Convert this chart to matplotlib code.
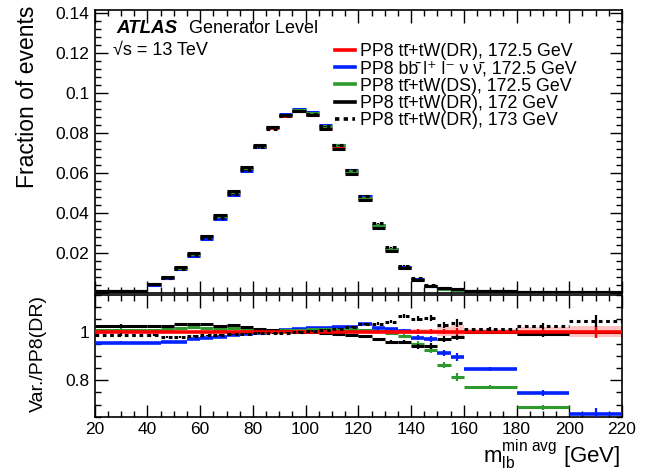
import numpy as np
import matplotlib
matplotlib.use('Agg')
import matplotlib.pyplot as plt
from matplotlib.ticker import MultipleLocator, FuncFormatter
from matplotlib.lines import Line2D

plt.rcParams['font.family'] = ['Liberation Sans', 'DejaVu Sans']
plt.rcParams['mathtext.fontset'] = 'custom'
plt.rcParams['mathtext.rm'] = 'Liberation Sans'
plt.rcParams['mathtext.it'] = 'Liberation Sans:italic'
plt.rcParams['mathtext.bf'] = 'Liberation Sans:bold'
plt.rcParams['mathtext.default'] = 'regular'

# ---------------- data ----------------
bin_edges = [20, 40, 45, 50, 55, 60, 65, 70, 75, 80, 85, 90, 95, 100, 105, 110,
             115, 120, 125, 130, 135, 140, 145, 150, 155, 160, 180, 200, 220]

frac_nominal = [0.0008, 0.0044, 0.0077, 0.0124, 0.0192, 0.0279, 0.0380, 0.0499,
                0.0619, 0.0732, 0.0827, 0.0887, 0.0910, 0.0892, 0.0827, 0.0729,
                0.0605, 0.0472, 0.0337, 0.0220, 0.0129, 0.0070, 0.0037, 0.0024,
                0.0019, 0.0012, 0.0007, 0.0004]

ratio_nominal = [1.0] * 28
ratio_bbllvv = [0.954, 0.951, 0.957, 0.955, 0.968, 0.975, 0.978, 0.985, 0.988, 0.995,
                1.004, 1.008, 1.010, 1.015, 1.016, 1.018, 1.018, 1.030, 1.013, 1.009,
                1.003, 0.975, 0.968, 0.913, 0.895, 0.845, 0.746, 0.660]
ratio_ds = [1.008, 1.008, 1.012, 1.015, 1.017, 1.015, 1.010, 1.015, 1.010, 1.006,
            1.004, 1.006, 1.008, 1.010, 1.012, 1.012, 1.010, 1.005, 1.002, 0.993,
            0.981, 0.950, 0.923, 0.864, 0.813, 0.771, 0.688, 0.600]
ratio_172 = [1.023, 1.022, 1.024, 1.030, 1.030, 1.030, 1.022, 1.027, 1.018, 1.012,
             1.005, 1.002, 1.000, 0.997, 0.993, 0.990, 0.987, 0.981, 0.968, 0.959,
             0.956, 0.940, 0.942, 0.968, 0.979, 0.998, 0.990, 0.999]
ratio_173 = [0.987, 0.984, 0.978, 0.977, 0.982, 0.984, 0.986, 0.988, 0.991, 0.994,
             0.992, 0.995, 0.998, 1.003, 1.008, 1.012, 1.017, 1.030, 1.032, 1.040,
             1.062, 1.052, 1.055, 1.028, 1.035, 1.012, 1.022, 1.043]

band_nominal = [0.006, 0.004, 0.004, 0.003, 0.003, 0.003, 0.003, 0.003, 0.003, 0.003,
                0.003, 0.003, 0.003, 0.003, 0.003, 0.003, 0.004, 0.006, 0.008, 0.008,
                0.010, 0.010, 0.012, 0.020, 0.025, 0.012, 0.018, 0.022]
err_ratio = [0.006, 0.004, 0.004, 0.004, 0.003, 0.003, 0.003, 0.003, 0.003, 0.003,
             0.003, 0.003, 0.003, 0.003, 0.003, 0.003, 0.004, 0.005, 0.006, 0.007,
             0.008, 0.010, 0.012, 0.012, 0.015, 0.008, 0.012, 0.025]

labels = ['PP8 tt\u0304+tW(DR), 172.5 GeV',
          'PP8 bb\u0304 l\u207a l\u207b \u03bd \u03bd\u0304, 172.5 GeV',
          'PP8 tt\u0304+tW(DS), 172.5 GeV',
          'PP8 tt\u0304+tW(DR), 172 GeV',
          'PP8 tt\u0304+tW(DR), 173 GeV']
colors = ['#ff0000', '#0022ff', '#2e9a2e', '#000000', '#000000']
dotted = (0, (1.2, 1.2))
styles = ['solid', 'solid', 'solid', 'solid', dotted]

# ---------------- figure ----------------
edges = np.array(bin_edges, dtype=float)
lo, hi = edges[:-1], edges[1:]
ctr = 0.5 * (lo + hi)
nom = np.array(frac_nominal)

fig = plt.figure(figsize=(6.58, 4.73), dpi=100)
ax1 = fig.add_axes([0.1439, 0.3805, 0.8014, 0.5984])
ax2 = fig.add_axes([0.1439, 0.1190, 0.8014, 0.2573])


def draw(ax, y, err, color, ls, lw, z):
    lc = ax.hlines(y, lo, hi, colors=color, linewidth=lw, zorder=z)
    lc.set_linestyle(ls)
    ax.vlines(ctr, y - err, y + err, colors=color, linewidth=1.6, zorder=z)


ratios = [ratio_nominal, ratio_bbllvv, ratio_ds, ratio_172, ratio_173]
zorders = [3, 4, 5, 6, 7]
err_r = np.array(err_ratio)

# top panel
for r, c, s, z in zip(ratios, colors, styles, zorders):
    r = np.array(r)
    draw(ax1, nom * r, nom * err_r, c, s, 2.2, z)

# ratio panel
band = np.array(band_nominal)
ax2.stairs(1 + band, edges, baseline=1 - band, fill=True, color='#ffc4c4',
           zorder=2, linewidth=0)
order = [1, 2, 3, 0, 4]
for i in order:
    r = np.array(ratios[i])
    lw = 2.6 if i in (0, 1) else 2.2
    draw(ax2, r, err_r, colors[i], styles[i], lw, 3 + order.index(i))

# axes styling
for ax in (ax1, ax2):
    ax.set_xlim(20, 220)
    ax.xaxis.set_major_locator(MultipleLocator(20))
    ax.xaxis.set_minor_locator(MultipleLocator(5))
    ax.tick_params(which='both', direction='in', top=True, right=True,
                   labelsize=12.5, width=1)
    ax.tick_params(which='major', length=9, pad=4)
    ax.tick_params(which='minor', length=4.5)
    for sp in ax.spines.values():
        sp.set_linewidth(1.2)

ax1.set_ylim(0, 0.1415)
ax1.yaxis.set_major_locator(MultipleLocator(0.02))
ax1.yaxis.set_minor_locator(MultipleLocator(0.004))
ax1.yaxis.set_major_formatter(FuncFormatter(lambda v, p: '' if abs(v) < 1e-9 else f'{v:g}'))
ax1.tick_params(labelbottom=False)

ax2.set_ylim(0.65, 1.15)
ax2.yaxis.set_major_locator(MultipleLocator(0.2))
ax2.yaxis.set_minor_locator(MultipleLocator(0.05))
ax2.yaxis.set_major_formatter(FuncFormatter(lambda v, p: f'{v:g}'))

# labels
fig.text(28 / 658, 1 - 6 / 473, 'Fraction of events', rotation=90,
         ha='center', va='top', fontsize=16.5)
fig.text(38 / 658, 1 - 295 / 473, 'Var./PP8(DR)', rotation=90,
         ha='center', va='top', fontsize=14)
fig.text(620 / 658, 1 - 463 / 473,
         r'$\mathrm{m}_{\mathrm{lb}}^{\mathrm{min\ avg}}$ [GeV]',
         ha='right', va='baseline', fontsize=16)

fig.text(116 / 658, 1 - 33 / 473, 'ATLAS', fontsize=13.5, fontweight='bold',
         fontstyle='italic', va='baseline')
fig.text(189 / 658, 1 - 33 / 473, 'Generator Level', fontsize=13, va='baseline')
fig.text(113 / 658, 1 - 55 / 473, '√s = 13 TeV', fontsize=13, va='baseline')

handles = [Line2D([], [], color=c, lw=2.6, ls=s) for c, s in zip(colors, styles)]
ax1.legend(handles, labels, loc='upper left',
           bbox_to_anchor=(335 / 658, 1 - 43 / 473), bbox_transform=fig.transFigure,
           frameon=False, fontsize=12.8, handlelength=1.1, handletextpad=0.3,
           labelspacing=0.02, borderpad=0, borderaxespad=0)

fig.savefig('out.png', dpi=100)
